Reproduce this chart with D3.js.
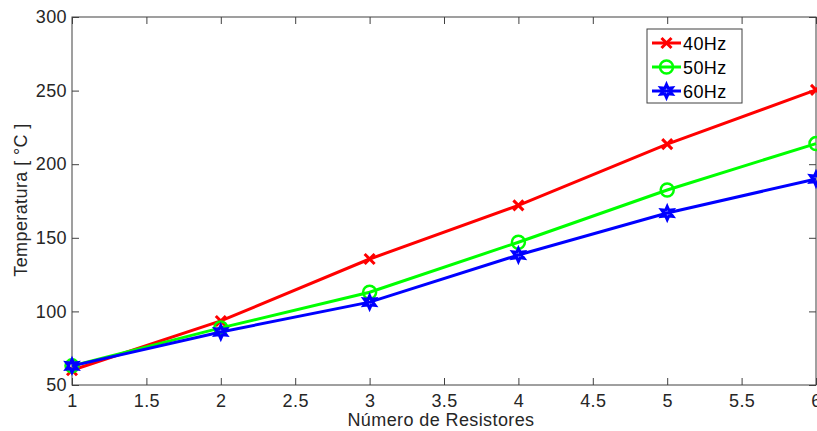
<!DOCTYPE html>
<html><head><meta charset="utf-8">
<script src="https://cdn.jsdelivr.net/npm/d3@7"></script>
<style>body{margin:0;background:#fff}svg{display:block}text{font-family:"Liberation Sans",Arial,sans-serif;letter-spacing:0.4px}</style>
</head><body><svg id="c" width="817" height="431"></svg>
<script>
const xValues = [1, 2, 3, 4, 5, 6];
const s40 = [60, 93.5, 135.6, 172, 213.6, 250.5];
const s50 = [63, 88.8, 113, 147, 182.5, 214];
const s60 = [63, 86, 106.3, 138.3, 166.8, 190];
const seriesNames = ["40Hz", "50Hz", "60Hz"];
const seriesColors = ["#ff0000", "#00ff00", "#0000ff"];
const xTicks = [1, 1.5, 2, 2.5, 3, 3.5, 4, 4.5, 5, 5.5, 6];
const yTicks = [50, 100, 150, 200, 250, 300];

const svg = d3.select("#c");
const L = 72, R = 816, T = 17, B = 385;
const x = d3.scaleLinear().domain([1, 6]).range([L, R]);
const y = d3.scaleLinear().domain([50, 300]).range([B, T]);
const axisColor = "#404040";
const fs = 18;

// box
svg.append("rect").attr("x", L).attr("y", T).attr("width", R - L).attr("height", B - T)
  .attr("fill", "none").attr("stroke", axisColor).attr("stroke-width", 1);

// axes with inward ticks
const ax = svg.append("g").attr("transform", `translate(0,${B})`)
  .call(d3.axisBottom(x).tickValues(xTicks).tickSizeInner(-7).tickSizeOuter(0).tickPadding(9).tickFormat(d3.format("")));
const axTop = svg.append("g").attr("transform", `translate(0,${T})`)
  .call(d3.axisTop(x).tickValues(xTicks).tickSizeInner(-7).tickSizeOuter(0).tickFormat(""));
const ay = svg.append("g").attr("transform", `translate(${L},0)`)
  .call(d3.axisLeft(y).tickValues(yTicks).tickSizeInner(-7).tickSizeOuter(0).tickPadding(5));
const ayR = svg.append("g").attr("transform", `translate(${R},0)`)
  .call(d3.axisRight(y).tickValues(yTicks).tickSizeInner(-7).tickSizeOuter(0).tickFormat(""));
[ax, axTop, ay, ayR].forEach(g => {
  g.select(".domain").remove();
  g.selectAll(".tick line").attr("stroke", axisColor);
  g.selectAll("text").attr("font-size", fs).attr("fill", "#262626");
});
ay.selectAll(".tick text").attr("x", -5);

// axis titles
svg.append("text").attr("x", 441).attr("y", 426).attr("text-anchor", "middle")
  .attr("font-size", fs).attr("fill", "#262626").text("Número de Resistores");
svg.append("text").attr("transform", `translate(27,${200}) rotate(-90)`).attr("text-anchor", "middle")
  .attr("font-size", fs).attr("fill", "#262626").text("Temperatura [ °C ]");

const data = [s40, s50, s60];
const line = d3.line().x((d, i) => x(xValues[i])).y(d => y(d));

function hexagram(r) {
  const pts = [];
  for (let k = 0; k < 12; k++) {
    const a = -Math.PI / 2 + k * Math.PI / 6;
    const rr = k % 2 === 0 ? r : r * 0.5;
    pts.push([rr * Math.cos(a), rr * Math.sin(a)]);
  }
  return "M" + pts.map(p => p.join(",")).join("L") + "Z";
}
function marker(g, type, color) {
  if (type === 0) {
    g.append("path").attr("d", "M-5,-5L5,5M-5,5L5,-5").attr("stroke", color).attr("stroke-width", 3).attr("fill", "none");
  } else if (type === 1) {
    g.append("circle").attr("r", 6.5).attr("stroke", color).attr("stroke-width", 2.5).attr("fill", "none");
  } else {
    g.append("path").attr("d", hexagram(6.5)).attr("stroke", color).attr("stroke-width", 3).attr("fill", "none").attr("stroke-linejoin", "miter");
  }
}

const plot = svg.append("g");
data.forEach((s, si) => {
  plot.append("path").datum(s).attr("d", line).attr("fill", "none")
    .attr("stroke", seriesColors[si]).attr("stroke-width", 3);
  s.forEach((v, i) => {
    const g = plot.append("g").attr("transform", `translate(${x(xValues[i])},${y(v)})`);
    marker(g, si, seriesColors[si]);
  });
});

// legend
const lg = svg.append("g");
lg.append("rect").attr("x", 647).attr("y", 29).attr("width", 95).attr("height", 74)
  .attr("fill", "#fff").attr("stroke", axisColor).attr("stroke-width", 1);
seriesNames.forEach((n, i) => {
  const cy = 43 + i * 24;
  lg.append("line").attr("x1", 652).attr("x2", 681).attr("y1", cy).attr("y2", cy)
    .attr("stroke", seriesColors[i]).attr("stroke-width", 3);
  const g = lg.append("g").attr("transform", `translate(666.5,${cy})`);
  marker(g, i, seriesColors[i]);
  lg.append("text").attr("x", 683).attr("y", cy + 6.5).attr("font-size", fs).attr("fill", "#000").text(n);
});
</script></body></html>
